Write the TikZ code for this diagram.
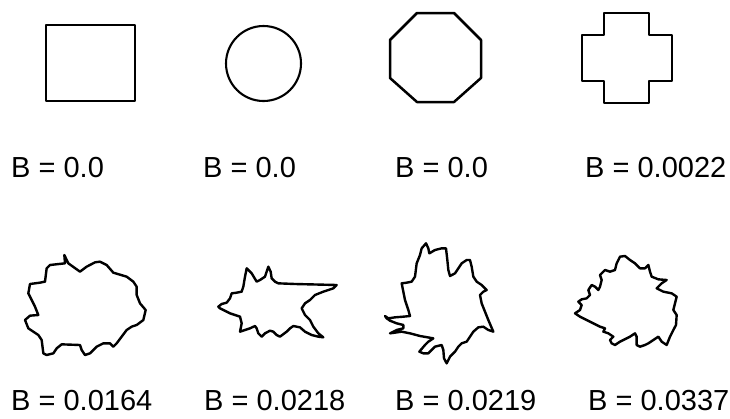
\documentclass[tikz,border=0pt]{standalone}
\usepackage{fontspec}
\setmainfont{Liberation Sans}
\begin{document}
\begin{tikzpicture}[x=1pt, y=-1pt, line join=round, every node/.style={anchor=base west, inner sep=0pt, text depth=0pt, font=\fontsize{29}{34}\selectfont}]
\useasboundingbox (0,0) rectangle (730,418);
% regular shapes
\draw[line width=2.1pt] (46,25) rectangle (135,101);
\draw[line width=2.1pt] (263.5,63.5) circle (37.5);
\draw[line width=2.5pt] (417,13) -- (454,13) -- (481,40) -- (481,78) -- (454,102) -- (417,102) -- (390,78) -- (390,40) -- cycle;
\draw[line width=2.5pt] (604,13) -- (649,13) -- (649,35) -- (672,35) -- (672,81) -- (649,81) -- (649,103) -- (604,103) -- (604,81) -- (582,81) -- (582,35) -- (604,35) -- cycle;
\node (b1) at (11,177) {B = 0.0};
\node (b2) at (203,177) {B = 0.0};
\node (b3) at (395,177) {B = 0.0};
\node (b4) at (585,177) {B = 0.0022};
% irregular shapes
\begin{scope}[shift={(0,230)}, scale=1/3, line width=2.4pt]
\draw (193,75) -- (205,100) -- (240,125) -- (260,110) -- (285,97) -- (300,95) -- (320,105) -- (340,128) -- (380,140) -- (400,155) -- (410,170) -- (410,195) -- (420,220) -- (437,240) -- (430,270) -- (410,285) -- (395,290) -- (380,300) -- (365,320) -- (350,340) -- (340,350) -- (330,340) -- (310,340) -- (290,350) -- (270,370) -- (255,375) -- (245,360) -- (240,345) -- (185,343) -- (170,355) -- (160,370) -- (140,375) -- (130,370) -- (125,330) -- (115,315) -- (100,305) -- (85,295) -- (75,270) -- (90,257) -- (115,255) -- (105,230) -- (95,210) -- (85,190) -- (90,162) -- (120,158) -- (135,155) -- (140,115) -- (150,105) -- (195,100) -- cycle;
\end{scope}
\begin{scope}[shift={(190,240)}, scale=1/3, line width=2.4pt]
\draw (85,200) -- (95,192) -- (110,188) -- (120,175) -- (125,160) -- (140,158) -- (155,155) -- (160,140) -- (165,110) -- (170,85) -- (185,100) -- (200,125) -- (210,120) -- (225,110) -- (235,80) -- (242,95) -- (245,115) -- (255,125) -- (265,130) -- (315,132) -- (440,135) -- (430,145) -- (400,155) -- (375,165) -- (360,180) -- (345,190) -- (335,205) -- (345,225) -- (360,240) -- (370,260) -- (385,280) -- (400,292) -- (385,290) -- (365,285) -- (345,275) -- (330,262) -- (310,258) -- (300,265) -- (290,275) -- (270,290) -- (260,285) -- (250,275) -- (240,272) -- (225,280) -- (215,290) -- (205,280) -- (200,265) -- (195,258) -- (180,265) -- (165,270) -- (150,275) -- (155,250) -- (150,230) -- (135,225) -- (120,220) -- (100,210) -- (90,205) -- cycle;
\end{scope}
\begin{scope}[shift={(370,230)}, scale=1/3, line width=2.4pt]
\draw (45,258) -- (55,265) -- (75,262) -- (100,260) -- (120,258) -- (115,240) -- (105,210) -- (100,185) -- (95,160) -- (110,158) -- (125,155) -- (135,140) -- (140,100) -- (150,75) -- (155,55) -- (168,40) -- (175,55) -- (178,70) -- (195,60) -- (215,55) -- (228,55) -- (232,90) -- (235,120) -- (240,138) -- (255,130) -- (265,115) -- (275,100) -- (290,90) -- (300,90) -- (305,110) -- (310,140) -- (320,155) -- (335,165) -- (350,180) -- (340,185) -- (330,195) -- (335,220) -- (345,245) -- (355,270) -- (370,305) -- (355,300) -- (340,290) -- (325,292) -- (310,305) -- (300,320) -- (290,335) -- (275,340) -- (265,350) -- (255,365) -- (240,380) -- (230,400) -- (222,385) -- (220,360) -- (215,345) -- (195,350) -- (185,360) -- (175,370) -- (160,370) -- (148,365) -- (165,345) -- (175,335) -- (190,325) -- (150,318) -- (120,310) -- (95,305) -- (60,310) -- (80,300) -- (100,295) -- (100,285) -- (80,280) -- (60,272) -- (50,265) -- cycle;
\end{scope}
\begin{scope}[shift={(550,230)}, scale=1/3, line width=2.4pt]
\draw (75,250) -- (90,240) -- (95,225) -- (85,215) -- (95,208) -- (110,205) -- (120,195) -- (115,180) -- (125,165) -- (135,170) -- (145,180) -- (150,170) -- (155,150) -- (150,135) -- (160,125) -- (165,120) -- (180,125) -- (195,120) -- (200,100) -- (210,80) -- (225,78) -- (240,90) -- (255,100) -- (270,115) -- (285,115) -- (295,105) -- (300,125) -- (305,140) -- (325,148) -- (350,150) -- (335,160) -- (320,175) -- (340,185) -- (365,190) -- (380,200) -- (375,220) -- (370,240) -- (380,255) -- (378,285) -- (370,300) -- (360,320) -- (350,345) -- (335,335) -- (325,320) -- (310,330) -- (295,340) -- (285,345) -- (270,350) -- (260,345) -- (260,320) -- (255,310) -- (240,320) -- (230,325) -- (210,335) -- (195,345) -- (185,340) -- (180,330) -- (190,320) -- (175,310) -- (160,305) -- (165,295) -- (150,290) -- (130,280) -- (110,270) -- (90,260) -- cycle;
\end{scope}
\node (b5) at (11,410) {B = 0.0164};
\node (b6) at (204,410) {B = 0.0218};
\node (b7) at (395,410) {B = 0.0219};
\node (b8) at (588,410) {B = 0.0337};
\end{tikzpicture}
\end{document}
